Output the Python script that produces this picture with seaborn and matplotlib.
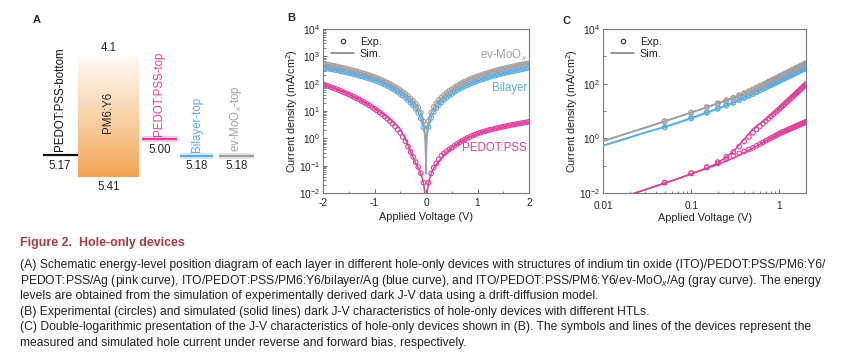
import numpy as np
import pandas as pd
import matplotlib
matplotlib.use('Agg')
import matplotlib.pyplot as plt
import seaborn as sns
from matplotlib import ticker
from matplotlib.lines import Line2D
from matplotlib.colors import LinearSegmentedColormap

###############################################################################
### DATA
###############################################################################
# panel A - energy levels (eV)
pm6_lumo = 4.1
pm6_homo = 5.41
level_names = ['PEDOT:PSS-bottom', 'PEDOT:PSS-top', 'Bilayer-top', 'ev-MoO$_x$-top']
level_values = [5.17, 5.00, 5.18, 5.18]
level_labels = ['5.17', '5.00', '5.18', '5.18']

# panels B/C - measured J-V (|J| in mA/cm2), sweep step 0.05 V
v_exp = [0.05, 0.10, 0.15, 0.20, 0.25, 0.30, 0.35, 0.40, 0.45, 0.50,
         0.55, 0.60, 0.65, 0.70, 0.75, 0.80, 0.85, 0.90, 0.95, 1.00,
         1.05, 1.10, 1.15, 1.20, 1.25, 1.30, 1.35, 1.40, 1.45, 1.50,
         1.55, 1.60, 1.65, 1.70, 1.75, 1.80, 1.85, 1.90, 1.95, 2.00]

gray_fwd = [4.3, 8.8, 14.0, 19.5, 25.2, 31, 38.2, 45.8, 53.7, 62,
            72.1, 82.7, 93.8, 105, 118, 130, 143, 157, 171, 185,
            200, 216, 231, 248, 264, 282, 299, 317, 335, 354,
            373, 392, 412, 432, 453, 474, 495, 517, 539, 560]
gray_rev = [4.1, 8.6, 13.5, 18.6, 23.5, 29, 35.5, 42.5, 50, 58,
            67, 77, 87, 98, 109, 121, 134, 147, 160, 174,
            188, 202, 217, 232, 248, 265, 282, 299, 317, 335,
            353, 372, 391, 410, 430, 451, 472, 493, 515, 537]
blue_fwd = [2.6, 5.6, 9.0, 12.6, 16.5, 20.5, 25.5, 30.7, 36.2, 42,
            48.8, 56.0, 63.5, 71.3, 79.5, 88.0, 96.8, 106, 115, 125,
            135, 145, 156, 167, 178, 190, 201, 213, 225, 238,
            250, 263, 276, 290, 303, 317, 331, 346, 360, 375]
blue_rev = [2.5, 5.3, 8.5, 12.0, 15.8, 19.8, 24.8, 30.2, 36.0, 42.2,
            49.3, 57, 65, 73.5, 82.5, 92, 102, 112, 122, 132,
            142, 152, 163, 174, 185, 197, 209, 221, 233, 246,
            259, 272, 285, 299, 313, 327, 341, 355, 370, 385]
pink_fwd = [0.024, 0.052, 0.085, 0.12, 0.172, 0.23, 0.282, 0.336, 0.392, 0.45,
            0.531, 0.618, 0.71, 0.807, 0.91, 1.02, 1.13, 1.25, 1.37, 1.5,
            1.61, 1.72, 1.83, 1.94, 2.06, 2.17, 2.29, 2.42, 2.54, 2.66,
            2.79, 2.92, 3.05, 3.18, 3.31, 3.45, 3.58, 3.72, 3.86, 4.0]
pink_rev = [0.024, 0.053, 0.089, 0.135, 0.21, 0.32, 0.5, 0.773, 1.13, 1.6,
            2.11, 2.72, 3.43, 4.26, 5.2, 6.27, 7.48, 8.83, 10.3, 12.0,
            13.9, 15.9, 18.2, 20.7, 23.4, 26.3, 29.4, 32.8, 36.4, 40.3,
            44.4, 48.8, 53.5, 58.5, 63.8, 69.4, 75.3, 81.5, 88.1, 95]

# simulated curves (drift-diffusion)
v_sim = [0.01, 0.02, 0.03, 0.05, 0.07, 0.1, 0.15, 0.2, 0.3, 0.4,
         0.5, 0.6, 0.7, 0.8, 1.0, 1.25, 1.5, 1.75, 2.0]
gray_sim_fwd = [0.8, 1.65, 2.5, 4.3, 6.1, 8.9, 14, 19.5, 31, 46,
                62, 83, 105, 130, 185, 264, 354, 453, 560]
gray_sim_rev = [0.78, 1.6, 2.4, 4.1, 5.9, 8.6, 13.5, 18.6, 29, 42.5,
                58, 77, 98, 121, 174, 248, 335, 430, 537]
blue_sim_fwd = [0.55, 1.1, 1.65, 2.65, 3.8, 5.6, 9.0, 12.6, 20.5, 30.7,
                42, 56, 71.3, 88, 125, 178, 238, 303, 375]
blue_sim_rev = [0.53, 1.05, 1.6, 2.55, 3.6, 5.3, 8.5, 12, 19.8, 30.2,
                42.2, 57, 73.5, 92, 132, 185, 246, 313, 385]
pink_sim_fwd = [0.0042, 0.0086, 0.0132, 0.023, 0.033, 0.05, 0.08, 0.11, 0.19, 0.3,
                0.44, 0.61, 0.8, 1.01, 1.5, 2.06, 2.66, 3.31, 4.0]
pink_sim_rev = [0.0042, 0.0086, 0.0132, 0.023, 0.033, 0.05, 0.082, 0.125, 0.33, 0.95,
                2.2, 3.5, 5.1, 7.2, 12.5, 24, 41, 65, 97]
sim_at_zero = {'gray': 0.06, 'blue': 0.05, 'pink': 0.001}

colors = {'gray': '#a0a0a0', 'blue': '#5aaee8', 'pink': '#e0409c'}

caption_title = 'Figure 2.  Hole-only devices'
caption_lines = [
    '(A) Schematic energy-level position diagram of each layer in different hole-only devices with structures of indium tin oxide (ITO)/PEDOT:PSS/PM6:Y6/',
    'PEDOT:PSS/Ag (pink curve), ITO/PEDOT:PSS/PM6:Y6/bilayer/Ag (blue curve), and ITO/PEDOT:PSS/PM6:Y6/ev-MoO$_x$/Ag (gray curve). The energy',
    'levels are obtained from the simulation of experimentally derived dark J-V data using a drift-diffusion model.',
    '(B) Experimental (circles) and simulated (solid lines) dark J-V characteristics of hole-only devices with different HTLs.',
    '(C) Double-logarithmic presentation of the J-V characteristics of hole-only devices shown in (B). The symbols and lines of the devices represent the',
    'measured and simulated hole current under reverse and forward bias, respectively.',
]

###############################################################################
### STYLE
###############################################################################
sns.set_theme(style='ticks')
plt.rcParams['font.family'] = ['Liberation Sans', 'DejaVu Sans']
plt.rcParams['mathtext.fontset'] = 'custom'
plt.rcParams['mathtext.rm'] = 'Liberation Sans'
plt.rcParams['mathtext.it'] = 'Liberation Sans:italic'
plt.rcParams['mathtext.bf'] = 'Liberation Sans:bold'
plt.rcParams['axes.unicode_minus'] = False

W, H = 855, 363
fig = plt.figure(figsize=(W / 100, H / 100), dpi=100)


def px_axes(x0, y0, x1, y1):
    return fig.add_axes([x0 / W, 1 - y1 / H, (x1 - x0) / W, (y1 - y0) / H])


###############################################################################
### PANEL A - energy diagram
###############################################################################
ax_a = px_axes(0, 0, 280, 230)
ev_per_px = (pm6_homo - pm6_lumo) / 120
ax_a.axis('off')

grad = LinearSegmentedColormap.from_list('pm6', ['#fffaf4', '#f9d2a8', '#f2a453'])
ax_a.imshow(np.linspace(0, 1, 100).reshape(-1, 1), cmap=grad, aspect='auto',
            extent=[78, 139, pm6_homo, pm6_lumo], zorder=1)
ax_a.set_xlim(0, 280)
ax_a.set_ylim(pm6_lumo + 173 * ev_per_px, pm6_lumo - 57 * ev_per_px)
ax_a.text(108.5, pm6_lumo - 0.1, '4.1', ha='center', va='center', fontsize=8.3)
ax_a.text(108.5, pm6_homo + 0.11, '5.41', ha='center', va='center', fontsize=8.3)
ax_a.text(108.5, 4.7, 'PM6:Y6', rotation=90, ha='center', va='center', fontsize=8.3)

level_x = [(43, 78), (142, 177), (180, 213), (219, 254)]
level_cols = ['#111111', colors['pink'], colors['blue'], colors['gray']]
for name, val, lab, (xa, xb), col in zip(level_names, level_values, level_labels, level_x, level_cols):
    if col != '#111111':
        ax_a.plot([xa, xb], [val, val], color=col, lw=4.5, alpha=0.25, solid_capstyle='butt')
    ax_a.plot([xa, xb], [val, val], color=col, lw=1.6, solid_capstyle='butt')
    xc = 60 if name.endswith('bottom') else (xa + xb) / 2
    ax_a.text(xc, val - 0.04, name, rotation=90, ha='center', va='bottom',
              fontsize=8.3, color=col)
    ax_a.text(xc, val + 0.115, lab, ha='center', va='center', fontsize=8.3, color='#222222')

fig.text(37 / W, 1 - 20 / H, 'A', fontsize=8, fontweight='bold', ha='center', va='center')

###############################################################################
### PANELS B and C - J-V curves
###############################################################################
exp_sets = {'gray': (gray_fwd, gray_rev), 'blue': (blue_fwd, blue_rev), 'pink': (pink_fwd, pink_rev)}
sim_sets = {'gray': (gray_sim_fwd, gray_sim_rev), 'blue': (blue_sim_fwd, blue_sim_rev),
            'pink': (pink_sim_fwd, pink_sim_rev)}

ax_b = px_axes(323, 29, 529, 193)
ax_c = px_axes(603, 29, 806, 193)

for dev in ['pink', 'blue', 'gray']:
    col = colors[dev]
    fwd, rev = exp_sets[dev]
    sfwd, srev = sim_sets[dev]
    v_all = [-v for v in v_exp[::-1]] + v_exp
    j_all = rev[::-1] + fwd
    sns.scatterplot(x=v_all, y=j_all, ax=ax_b, marker='o', s=11, facecolor='none',
                    edgecolor=col, linewidth=0.8, zorder=2)
    vs_all = [-v for v in v_sim[::-1]] + [0.0] + v_sim
    js_all = srev[::-1] + [sim_at_zero[dev]] + sfwd
    sns.lineplot(x=vs_all, y=js_all, ax=ax_b, color=col, lw=1.1, sort=False,
                 estimator=None, zorder=3)

    # panel C: |J| vs |V| for both bias directions
    for branch_j, branch_s in [(rev, srev), (fwd, sfwd)]:
        sns.scatterplot(x=v_exp, y=branch_j, ax=ax_c, marker='o', s=11, facecolor='none',
                        edgecolor=col, linewidth=0.8, zorder=2)
        sns.lineplot(x=v_sim, y=branch_s, ax=ax_c, color=col, lw=1.1, sort=False,
                     estimator=None, zorder=3)

for ax in [ax_b, ax_c]:
    ax.set_yscale('log')
    ax.set_ylim(1e-2, 1e4)
    for s in ax.spines.values():
        s.set_visible(True)
        s.set_color('#777777')
        s.set_linewidth(0.8)
    ax.tick_params(which='major', direction='in', length=3, width=0.6, color='#555555',
                   labelsize=7.3, pad=2, labelcolor='#222222')
    ax.tick_params(which='minor', direction='in', length=1.8, width=0.5, color='#555555')
    ax.set_ylabel('Current density (mA/cm$^2$)', fontsize=7.8, labelpad=-1, color='#222222')
    handles = [Line2D([], [], ls='', marker='o', mfc='none', mec='#333333', ms=3.2, mew=0.8),
               Line2D([], [], color='#777777', lw=1.1)]
    ax.legend(handles, ['Exp.', 'Sim.'], loc='upper left', frameon=False, fontsize=7.8,
              handlelength=2.2, handletextpad=0.5, labelspacing=0.2,
              borderaxespad=0.3, bbox_to_anchor=(0.0, 1.0))

ax_b.tick_params(axis='x', which='major', pad=3.5)
ax_b.set_xlabel('Applied Voltage (V)', fontsize=7.8, labelpad=3, color='#222222')
ax_c.tick_params(axis='x', which='major', pad=5.5)
ax_c.set_xlabel('Applied Voltage (V)', fontsize=7.8, labelpad=1.5, color='#222222')

ax_b.set_xlim(-2, 2)
ax_b.xaxis.set_major_locator(ticker.MultipleLocator(1))
ax_b.xaxis.set_minor_locator(ticker.MultipleLocator(0.5))
ax_b.yaxis.set_major_locator(ticker.LogLocator(base=10, numticks=10))
ax_b.yaxis.set_minor_locator(ticker.LogLocator(base=10, subs=np.arange(2, 10), numticks=20))
ax_b.yaxis.set_minor_formatter(ticker.NullFormatter())
ax_b.text(0.99, 0.84, 'ev-MoO$_x$', transform=ax_b.transAxes, ha='right', va='center',
          fontsize=8.3, color=colors['gray'])
ax_b.text(0.99, 0.64, 'Bilayer', transform=ax_b.transAxes, ha='right', va='center',
          fontsize=8.3, color=colors['blue'])
ax_b.text(0.99, 0.275, 'PEDOT:PSS', transform=ax_b.transAxes, ha='right', va='center',
          fontsize=8.3, color=colors['pink'])

ax_c.set_xscale('log')
ax_c.set_xlim(0.01, 2)
ax_c.xaxis.set_major_locator(ticker.FixedLocator([0.01, 0.1, 1]))
ax_c.xaxis.set_major_formatter(ticker.FormatStrFormatter('%g'))
ax_c.xaxis.set_minor_locator(ticker.LogLocator(base=10, subs=np.arange(2, 10), numticks=20))
ax_c.xaxis.set_minor_formatter(ticker.NullFormatter())
ax_c.yaxis.set_major_locator(ticker.FixedLocator([1e-2, 1, 1e2, 1e4]))
ax_c.yaxis.set_major_formatter(ticker.LogFormatterSciNotation())
ax_c.yaxis.set_minor_locator(ticker.FixedLocator([1e-1, 1e1, 1e3]))
ax_c.yaxis.set_minor_formatter(ticker.NullFormatter())

fig.text(291 / W, 1 - 18 / H, 'B', fontsize=8, fontweight='bold', ha='center', va='center')
fig.text(566 / W, 1 - 21 / H, 'C', fontsize=8, fontweight='bold', ha='center', va='center')

###############################################################################
### CAPTION
###############################################################################
fig.text(20 / W, 1 - 243 / H, caption_title, fontsize=8.9, fontweight='bold',
         color='#a83a40', ha='left', va='center')
for i, line in enumerate(caption_lines):
    fig.text(20 / W, 1 - (265 + i * 15.6) / H, line, fontsize=8.75, color='#222222',
             ha='left', va='center')

fig.savefig('out.png', dpi=100)
